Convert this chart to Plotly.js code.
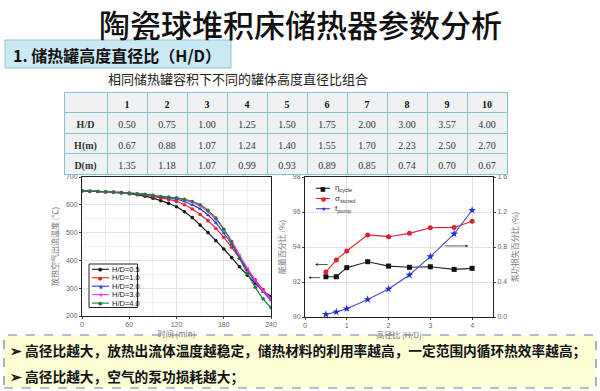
<!DOCTYPE html>
<html><head><meta charset="utf-8">
<script src="https://cdn.plot.ly/plotly-3.0.1.min.js"></script>
<style>html,body{margin:0;padding:0;background:#fff}#chart{width:600px;height:391px}</style>
</head><body><div id="chart"></div>
<script>
// ---------- table data ----------
const tableCols = ['1','2','3','4','5','6','7','8','9','10'];
const rowLabels = ['H/D','H(m)','D(m)'];
const hdRatio = [0.50,0.75,1.00,1.25,1.50,1.75,2.00,3.00,3.57,4.00];
const heightM = [0.67,0.88,1.07,1.24,1.40,1.55,1.70,2.23,2.50,2.70];
const diamM   = [1.35,1.18,1.07,0.99,0.93,0.89,0.85,0.74,0.70,0.67];

// ---------- left chart data (outlet air temperature vs time) ----------
const timeMin = [0,10,20,30,40,50,60,70,80,90,100,110,120,130,140,150,160,170,180,190,200,210,220,230,240];
const tHD05 = [650,649,648,646,645,643,640,636,631,624,615,605,593,575,554,527,500,471,441,410,377,347,318,290,271];
const tHD10 = [650,649,648,647,645,643,641,638,635,630,625,619,612,600,585,565,543,515,483,447,408,368,330,295,262];
const tHD20 = [650,649,648,647,645,644,642,640,637,633,628,625,620,612,600,585,563,535,498,458,410,365,322,288,256];
const tHD30 = [650,649,648,647,646,644,642,640,638,634,630,627,624,618,609,595,575,548,513,470,420,372,328,290,262];
const tHD40 = [650,649,648,647,646,644,642,640,638,634,630,628,625,620,612,600,580,552,512,465,408,353,303,262,230];
const leftNames = ['H/D=0.5','H/D=1.0','H/D=2.0','H/D=3.0','H/D=4.0'];

// ---------- right chart data (vs H/D) ----------
const hdX    = [0.5,0.75,1.0,1.5,2.0,2.5,3.0,3.57,4.0];
const etaCyc = [92.30,92.30,92.82,93.16,92.91,92.84,92.87,92.72,92.78];
const sigSto = [92.57,93.26,93.77,94.69,94.59,94.78,95.10,95.12,95.47];
const fPump  = [0.03,0.057,0.095,0.20,0.32,0.48,0.69,0.95,1.22];
const rightNames = ['η<sub>cycle</sub>','σ<sub>stored</sub>','f<sub>pump</sub>'];

// ---------- helpers ----------
const W = 600, H = 391;
const X = p => p / W;
const Y = p => 1 - p / H;
const CJK = '"Noto Sans CJK SC", "Noto Sans", sans-serif';
const SANS = '"Liberation Sans", Arial, sans-serif';
const SERIF = '"Liberation Serif", "Times New Roman", serif';

const leftColors = ['#1a1a1a','#e3232b','#2a36d8','#ff2eff','#237a36'];
const leftSymbols = ['circle','circle','triangle-up','triangle-down','circle'];
const leftGlyphs = ['●','●','▲','▼','●'];
const leftSeries = [tHD05,tHD10,tHD20,tHD30,tHD40];

const traces = [];

// table
const colWeights = ['bold'].concat(tableCols.map(() => 'normal'));
traces.push({
  type: 'table',
  domain: {x: [X(64), X(507)], y: [Y(180), Y(92)]},
  columnwidth: [43,40,40,40,40,40,40,40,40,40,40],
  header: {
    values: [''].concat(tableCols),
    fill: {color: '#eef2f3'},
    line: {color: '#86c4d2', width: 1},
    font: {family: SERIF, size: 10, color: '#111', weight: 'bold'},
    align: 'center', height: 20.5
  },
  cells: {
    values: [rowLabels].concat(
      hdRatio.map((v, i) => [hdRatio[i].toFixed(2), heightM[i].toFixed(2), diamM[i].toFixed(2)])),
    fill: {color: '#eef2f3'},
    line: {color: '#86c4d2', width: 1},
    font: {family: SERIF, size: 10, color: '#333', weight: colWeights},
    align: 'center', height: 20.7
  }
});

// left chart curves
leftSeries.forEach((s, i) => {
  traces.push({
    type: 'scatter', mode: 'lines+markers', x: timeMin, y: s, name: leftNames[i],
    xaxis: 'x', yaxis: 'y', showlegend: false,
    line: {color: leftColors[i], width: 1.2, shape: 'spline'},
    marker: {color: leftColors[i], size: 3.6, symbol: leftSymbols[i]}
  });
});

// right chart
traces.push({type:'scatter', mode:'lines+markers', x: hdX, y: etaCyc, name: rightNames[0],
  xaxis:'x2', yaxis:'y2', showlegend:false,
  line:{color:'#222', width:1.1}, marker:{color:'#111', size:5, symbol:'square'}});
traces.push({type:'scatter', mode:'lines+markers', x: hdX, y: sigSto, name: rightNames[1],
  xaxis:'x2', yaxis:'y2', showlegend:false,
  line:{color:'#e0202c', width:1.1}, marker:{color:'#e0202c', size:5, symbol:'circle'}});
traces.push({type:'scatter', mode:'lines+markers', x: hdX, y: fPump, name: rightNames[2],
  xaxis:'x2', yaxis:'y3', showlegend:false,
  line:{color:'#4a4ad0', width:1.1}, marker:{color:'#1f2fd8', size:6, symbol:'star'}});

const tickFont = {family: SANS, size: 7, color: '#666'};
const axTitleFont = {family: CJK, size: 8, color: '#777'};
const baseAx = {
  showline: true, linecolor: '#222', linewidth: 1, mirror: true,
  ticks: 'outside', ticklen: 2, tickcolor: '#444', tickfont: tickFont,
  gridcolor: '#e2e2e2', gridwidth: 1, zeroline: false, automargin: false
};

const shapes = [];
const annotations = [];

// header boxes
shapes.push({type:'rect', xref:'paper', yref:'paper', x0:X(5), x1:X(231), y0:Y(68), y1:Y(40),
  fillcolor:'#c9e9f5', line:{color:'#8fc4d6', width:1}, layer:'below'});
shapes.push({type:'rect', xref:'paper', yref:'paper', x0:X(4), x1:X(596), y0:Y(388), y1:Y(335),
  fillcolor:'#fdfdd6', line:{color:'#5f84ad', width:1.2, dash:'dash'}, layer:'below'});

// texts
annotations.push({xref:'paper', yref:'paper', x:0.5, y:1, text:'陶瓷球堆积床储热器参数分析',
  showarrow:false, xanchor:'center', yanchor:'top', borderpad:0, yshift:0,
  font:{family:CJK, size:31, color:'#111', weight:500}});
annotations.push({xref:'paper', yref:'paper', x:X(11), y:Y(54.5), text:'<b>1. 储热罐高度直径比（H/D）</b>',
  showarrow:false, xanchor:'left', yanchor:'middle', font:{family:CJK, size:16, color:'#111'}});
annotations.push({xref:'paper', yref:'paper', x:X(238), y:Y(78.5), text:'相同储热罐容积下不同的罐体高度直径比组合',
  showarrow:false, xanchor:'center', yanchor:'middle', font:{family:CJK, size:13, color:'#222'}});
annotations.push({xref:'paper', yref:'paper', x:X(8), y:Y(350), text:'<b>➢ 高径比越大，放热出流体温度越稳定，储热材料的利用率越高，一定范围内循环热效率越高；</b>',
  showarrow:false, xanchor:'left', yanchor:'middle', font:{family:CJK, size:13.7, color:'#111'}});
annotations.push({xref:'paper', yref:'paper', x:X(8), y:Y(375.5), text:'<b>➢ 高径比越大，空气的泵功损耗越大；</b>',
  showarrow:false, xanchor:'left', yanchor:'middle', font:{family:CJK, size:13.7, color:'#111'}});

// left legend (manual, compact)
shapes.push({type:'rect', xref:'paper', yref:'paper', x0:X(89), x1:X(137.5), y0:Y(307.5), y1:Y(264),
  fillcolor:'#fff', line:{color:'#222', width:1}});
leftNames.forEach((n, i) => {
  const py = 269.3 + 8.45 * i;
  shapes.push({type:'line', xref:'paper', yref:'paper', x0:X(92), x1:X(109), y0:Y(py), y1:Y(py),
    line:{color:leftColors[i], width:1.1}});
  annotations.push({xref:'paper', yref:'paper', x:X(100.5), y:Y(py), text:leftGlyphs[i], showarrow:false,
    xanchor:'center', yanchor:'middle', font:{family:'DejaVu Sans', size:5, color:leftColors[i]}});
  annotations.push({xref:'paper', yref:'paper', x:X(110), y:Y(py), text:n, showarrow:false,
    xanchor:'left', yanchor:'middle', font:{family:SANS, size:7.5, color:'#111'}});
});

// right legend
const rColors = ['#111','#e0202c','#2a36d8'];
const rLine = ['#222','#e0202c','#4a4ad0'];
const rGlyphs = ['■','●','★'];
rightNames.forEach((n, i) => {
  const py = 188.3 + 10.2 * i;
  shapes.push({type:'line', xref:'paper', yref:'paper', x0:X(316), x1:X(330), y0:Y(py), y1:Y(py),
    line:{color:rLine[i], width:1.1}});
  annotations.push({xref:'paper', yref:'paper', x:X(323), y:Y(py), text:rGlyphs[i], showarrow:false,
    xanchor:'center', yanchor:'middle', font:{family:'DejaVu Sans', size:6, color:rColors[i]}});
  annotations.push({xref:'paper', yref:'paper', x:X(333), y:Y(py), text:n, showarrow:false,
    xanchor:'left', yanchor:'middle', font:{family:SANS, size:8, color:'#333'}});
});

// axis-pointer arrows on right chart
annotations.push({xref:'x2', yref:'y2', axref:'x2', ayref:'y2', x:0.24, y:93.0, ax:0.58, ay:93.0,
  text:'', showarrow:true, arrowhead:2, arrowsize:0.7, arrowwidth:0.8, arrowcolor:'#333'});
annotations.push({xref:'x2', yref:'y2', axref:'x2', ayref:'y2', x:0.08, y:92.25, ax:0.40, ay:92.25,
  text:'', showarrow:true, arrowhead:2, arrowsize:0.7, arrowwidth:0.8, arrowcolor:'#333'});
annotations.push({xref:'x2', yref:'y2', axref:'x2', ayref:'y2', x:3.91, y:94.06, ax:3.31, ay:94.06,
  text:'', showarrow:true, arrowhead:2, arrowsize:0.7, arrowwidth:0.8, arrowcolor:'#333'});

const layout = {
  width: W, height: H,
  margin: {l:0, r:0, t:0, b:0},
  paper_bgcolor: '#fff', plot_bgcolor: '#fff',
  showlegend: false,
  xaxis: Object.assign({}, baseAx, {domain:[X(82), X(271)], anchor:'y', range:[0,240], tickvals:[0,60,120,180,240],
    minor:{dtick:30, showgrid:true, gridcolor:'#f0f0f0'},
    title:{text:'时间 (min)', font:axTitleFont, standoff:3}}),
  yaxis: Object.assign({}, baseAx, {domain:[Y(316), Y(177)], anchor:'x', range:[200,700], dtick:100,
    minor:{dtick:50, showgrid:true, gridcolor:'#f0f0f0'},
    title:{text:'放热空气出流温度 (℃)', font:axTitleFont, standoff:6}}),
  xaxis2: Object.assign({}, baseAx, {domain:[X(305), X(493)], anchor:'y2', range:[0,4.5], tickvals:[0,1,2,3,4],
    title:{text:'高径比 (H/D)', font:axTitleFont, standoff:3}}),
  yaxis2: Object.assign({}, baseAx, {domain:[Y(317), Y(177)], anchor:'x2', range:[90,98], dtick:2, mirror:false,
    title:{text:'能量百分比 (%)', font:axTitleFont, standoff:6}}),
  yaxis3: Object.assign({}, baseAx, {overlaying:'y2', anchor:'x2', side:'right', range:[0,1.6], dtick:0.4,
    tickformat:'.1f', showgrid:false, mirror:false,
    title:{text:'泵功损失百分比 (%)', font:axTitleFont, standoff:6}}),
  shapes: shapes,
  annotations: annotations
};

Plotly.newPlot('chart', traces, layout, {staticPlot:true, displayModeBar:false});
</script></body></html>
